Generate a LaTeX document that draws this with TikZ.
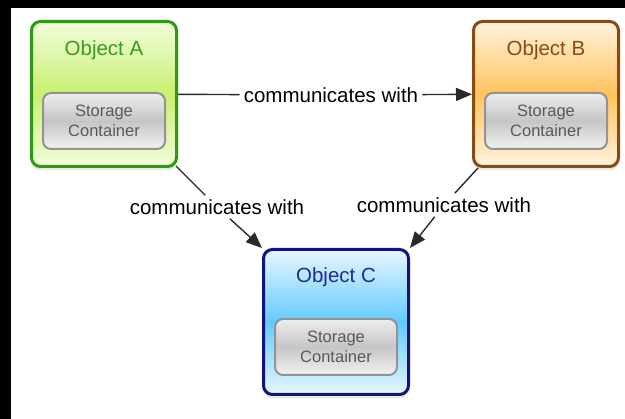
\documentclass[tikz,border=0pt]{standalone}
\usepackage{fontspec}
\setmainfont{Liberation Sans}
\usetikzlibrary{arrows.meta,shadows}

\definecolor{greenB}{HTML}{2E9A12}
\definecolor{greenT}{HTML}{3C9A1E}
\definecolor{greenL}{HTML}{F2FDDC}
\definecolor{greenM}{HTML}{C8F070}
\definecolor{brownB}{HTML}{8A4A14}
\definecolor{orangeL}{HTML}{FFF3DE}
\definecolor{orangeM}{HTML}{FFC35C}
\definecolor{navyB}{HTML}{12127E}
\definecolor{navyT}{HTML}{1C2C98}
\definecolor{blueL}{HTML}{E8F7FF}
\definecolor{blueM}{HTML}{62CAFF}
\definecolor{linkgray}{HTML}{2A2A2A}

\tikzset{
  object/.style={draw, line width=3pt, rounded corners=9pt,
    minimum width=145pt, minimum height=145pt,
    drop shadow={shadow xshift=0pt, shadow yshift=-4pt, opacity=.18}},
  objA/.style={draw=greenB, top color=greenL, bottom color=greenL, middle color=greenM},
  objB/.style={draw=brownB, top color=orangeL, bottom color=orangeL, middle color=orangeM},
  objC/.style={draw=navyB, top color=blueL, bottom color=blueL, middle color=blueM},
  title/.style={font=\fontsize{20.5}{24}\selectfont},
  store/.style={draw=gray!85, line width=2pt, rounded corners=8pt,
    minimum width=122pt, minimum height=56pt, align=center,
    top color=gray!14, bottom color=gray!10, middle color=gray!45,
    text=black!65, font=\fontsize{16.5}{20}\selectfont},
  comm/.style={inner sep=4pt, font=\fontsize{20.5}{24}\selectfont},
  link/.style={draw=linkgray, line width=1.4pt},
  headed/.style={-{Triangle[length=16pt,width=13pt]}}
}

\begin{document}
\begin{tikzpicture}[x=1pt, y=-1pt]
	\useasboundingbox (0,0) rectangle (625,419);
	\fill[black] (0,0) rectangle (625,419);
	\fill[white] (11,8) rectangle (625,419);
	
	% the three objects
	\foreach \n/\x/\y in {A/104/94, B/546/94, C/336/322}
	\node[object, obj\n] (\n) at (\x,\y) {};
	
	\node[title, text=greenT] (tA) at ([yshift=44pt]A.center) {Object A};
	\node[title, text=brownB] (tB) at ([yshift=44pt]B.center) {Object B};
	\node[title, text=navyT] (tC) at ([yshift=45pt]C.center) {Object C};
	
	\node[store] (sA) at ([yshift=-27pt]A.center) {Storage\\Container};
	\node[store] (sB) at ([yshift=-27pt]B.center) {Storage\\Container};
	\node[store] (sC) at ([yshift=-25pt]C.center) {Storage\\Container};
	
	% connectors
	\node[comm] (ab) at (331,95) {communicates with};
	\node[comm] (ac) at (217,207) {communicates with};
	\node[comm] (bc) at (444,205) {communicates with};
	
	\draw[link] (A) -- (ab);
	\draw[link, headed] (ab) -- (B);
	\draw[link] ([shift={(-2pt,2pt)}]A.south east) -- (ac);
	\draw[link, headed] (ac) -- (C.north west);
	\draw[link] ([xshift=6pt]B.south west) -- (bc);
	\draw[link, headed] (bc) -- (C.north east);
	
\end{tikzpicture}
\end{document}
